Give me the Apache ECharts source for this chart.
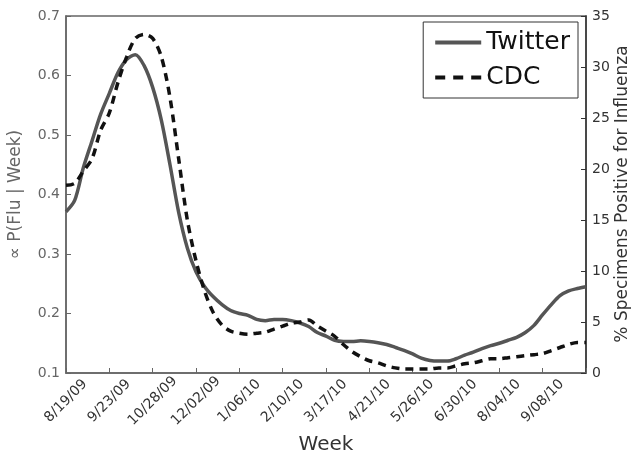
<!DOCTYPE html>
<html>
<head>
<meta charset="utf-8">
<script src="https://cdn.jsdelivr.net/npm/echarts@6/dist/echarts.min.js"></script>
<style>
    html, body { margin: 0; padding: 0; background: #fff; }
    #chart { width: 634px; height: 453px; }
</style>
</head>
<body>
<div id="chart"></div>
<script>
// weekly values, starting week of 8/19/09
const twitter = [0.371, 0.39, 0.445, 0.49, 0.535, 0.57, 0.605, 0.627, 0.635, 0.617,
    0.58, 0.525, 0.45, 0.37, 0.31, 0.27, 0.245, 0.228, 0.215, 0.205,
    0.2, 0.197, 0.19, 0.188, 0.19, 0.19, 0.188, 0.184, 0.178, 0.168,
    0.162, 0.155, 0.153, 0.153, 0.154, 0.153, 0.151, 0.148, 0.143, 0.138,
    0.132, 0.125, 0.121, 0.12, 0.12, 0.124, 0.13, 0.135, 0.141, 0.146,
    0.15, 0.155, 0.16, 0.168, 0.18, 0.198, 0.215, 0.23, 0.238, 0.242, 0.245];
const cdc = [18.4, 18.6, 19.8, 21, 23.8, 25.5, 28.5, 31, 32.8, 33.2,
    32.8, 31, 27, 21, 15, 11, 8, 5.9, 4.7, 4.1,
    3.9, 3.8, 3.9, 4.0, 4.3, 4.6, 4.9, 5.0, 5.2, 4.6,
    4.1, 3.6, 2.8, 2.1, 1.6, 1.2, 1.0, 0.7, 0.5, 0.4,
    0.4, 0.4, 0.4, 0.5, 0.5, 0.7, 0.9, 1.0, 1.2, 1.4,
    1.4, 1.5, 1.6, 1.7, 1.8, 1.9, 2.2, 2.5, 2.8, 3.0, 3.0];
const tickLabels = ['8/19/09', '9/23/09', '10/28/09', '12/02/09', '1/06/10', '2/10/10',
    '3/17/10', '4/21/10', '5/26/10', '6/30/10', '8/04/10', '9/08/10', ''];
const rightName = '% Specimens Positive for Influenza';

const weeks = twitter.map((v, i) => i);

const chart = echarts.init(document.getElementById('chart'));
const font = 'DejaVu Sans';
chart.setOption({
    animation: false,
    textStyle: { fontFamily: font },
    grid: { left: 66, right: 48, top: 16, bottom: 80, outerBoundsMode: 'none', containLabel: false },
    legend: {
        right: 56, top: 22,
        orient: 'vertical',
        itemWidth: 46, itemHeight: 14, itemGap: 10,
        padding: [8, 8, 8, 12],
        borderColor: '#333', borderWidth: 1,
        textStyle: { fontSize: 25, color: '#111', fontFamily: font },
        data: [
            { name: 'Twitter', icon: 'path://M0,6 L46,6 L46,10 L0,10 Z', itemStyle: { color: '#555' } },
            { name: 'CDC', icon: 'path://M0,6 L10,6 L10,10 L0,10 Z M18,6 L28,6 L28,10 L18,10 Z M36,6 L46,6 L46,10 L36,10 Z', itemStyle: { color: '#111' } }
        ]
    },
    xAxis: {
        type: 'category',
        boundaryGap: false,
        data: weeks,
        name: 'Week',
        nameLocation: 'middle',
        nameGap: 60,
        nameTextStyle: { fontSize: 20, color: '#333' },
        axisLine: { lineStyle: { color: '#666', width: 1.5 } },
        axisTick: { interval: 4, inside: true, length: 5, lineStyle: { color: '#666' } },
        axisLabel: {
            interval: 4, rotate: 45, fontSize: 14, color: '#333', margin: 28,
            align: 'center', verticalAlign: 'middle',
            formatter: (v, i) => tickLabels[i / 5] || ''
        },
        splitLine: { show: false }
    },
    yAxis: [{
        type: 'value', min: 0.1, max: 0.7, interval: 0.1,
        name: '\u221D P(Flu | Week)',
        nameLocation: 'middle', nameGap: 42,
        nameTextStyle: { fontSize: 17, color: '#666' },
        axisLine: { show: true, lineStyle: { color: '#666', width: 1.5 } },
        axisTick: { show: true, inside: true, length: 5 },
        axisLabel: { fontSize: 14, color: '#666', margin: 6, formatter: v => v.toFixed(1) },
        splitLine: { show: false }
    }, {
        type: 'value', min: 0, max: 35, interval: 5,
        axisLine: { show: true, lineStyle: { color: '#333', width: 1.5 } },
        axisTick: { show: true, inside: true, length: 5 },
        axisLabel: { fontSize: 14, color: '#333', margin: 6 },
        splitLine: { show: false }
    }],
    series: [{
        name: 'Twitter', type: 'line', yAxisIndex: 0, data: twitter,
        smooth: 0.3, showSymbol: false,
        lineStyle: { color: '#555', width: 3.5 }, itemStyle: { color: '#555' }
    }, {
        name: 'CDC', type: 'line', yAxisIndex: 1, data: cdc,
        smooth: 0.3, showSymbol: false,
        lineStyle: { color: '#111', width: 3.5, type: [8, 6] }, itemStyle: { color: '#111' }
    }],
    graphic: [{
        type: 'rect', shape: { x: 66, y: 16, width: 520, height: 357 },
        style: { fill: 'none', stroke: '#666', lineWidth: 1.5 }, silent: true
    }, {
        type: 'text', x: 623, y: 194, rotation: Math.PI / 2,
        style: {
            text: rightName, fontSize: 17, fill: '#333', fontFamily: font,
            align: 'center', verticalAlign: 'middle'
        }
    }]
});
</script>
</body>
</html>
